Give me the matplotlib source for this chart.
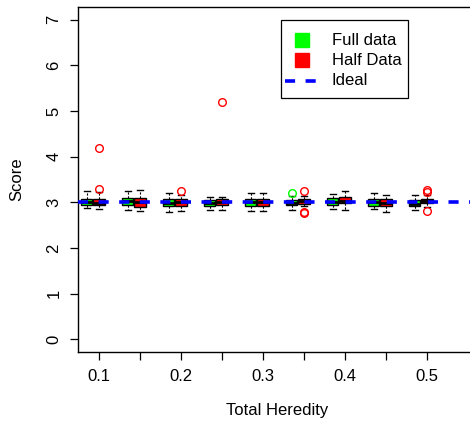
import matplotlib
matplotlib.use("Agg")
import matplotlib.pyplot as plt
from matplotlib.patches import Rectangle

plt.rcParams['font.family'] = ['Liberation Sans', 'DejaVu Sans']

# total heredity levels (one pair of boxes per level)
heredity = [0.1, 0.15, 0.2, 0.25, 0.3, 0.35, 0.4, 0.45, 0.5]
tick_labels = ["0.1", "", "0.2", "", "0.3", "", "0.4", "", "0.5"]

# full data box statistics
full_q1 = [2.94, 2.94, 2.92, 2.93, 2.93, 2.94, 2.94, 2.92, 2.92]
full_med = [3.00, 3.02, 2.98, 2.99, 3.00, 2.98, 3.01, 3.00, 2.97]
full_q3 = [3.08, 3.09, 3.07, 3.06, 3.08, 3.04, 3.09, 3.07, 3.04]
full_lo = [2.87, 2.84, 2.79, 2.83, 2.81, 2.84, 2.86, 2.86, 2.84]
full_hi = [3.24, 3.24, 3.21, 3.12, 3.20, 3.14, 3.19, 3.20, 3.17]
full_out = [[], [], [], [], [], [3.20], [], [], []]

# half data box statistics
half_q1 = [2.94, 2.89, 2.93, 2.95, 2.93, 2.97, 2.98, 2.92, 2.98]
half_med = [2.99, 3.00, 3.00, 3.01, 3.01, 3.03, 3.03, 2.98, 3.03]
half_q3 = [3.08, 3.09, 3.08, 3.08, 3.08, 3.08, 3.11, 3.07, 3.08]
half_lo = [2.85, 2.81, 2.82, 2.83, 2.81, 2.93, 2.84, 2.79, 2.89]
half_hi = [3.22, 3.28, 3.16, 3.11, 3.20, 3.14, 3.25, 3.15, 3.17]
half_out = [[4.20, 3.29], [], [3.25], [5.20], [], [3.24, 2.79, 2.76], [], [], [3.26, 3.23, 2.80]]

ideal = 3.0

legend_labels = ["Full data", "Half Data", "Ideal"]
GREEN, RED, BLUE = "#00FF00", "#FF0000", "#0000FF"
IDEAL_DASH = (0, (2.8, 2.9))


def make_stats(q1, med, q3, lo, hi, out):
    stats = []
    for a, b, c, d, e, f in zip(q1, med, q3, lo, hi, out):
        stats.append(dict(q1=a, med=b, q3=c, whislo=d, whishi=e, fliers=f))
    return stats


def draw_boxes(ax, stats, pos, color):
    ax.bxp(stats, positions=pos, widths=0.014, capwidths=0.007,
           patch_artist=True, manage_ticks=False,
           boxprops=dict(facecolor=color, edgecolor="black", linewidth=1.0),
           medianprops=dict(color="black", linewidth=2.0),
           whiskerprops=dict(color="black", linewidth=0.8, linestyle=(0, (2, 1.5))),
           capprops=dict(color="black", linewidth=1.0),
           flierprops=dict(marker="o", markerfacecolor="none", markeredgecolor=color,
                           markersize=5.5, markeredgewidth=1.0, linestyle="none"))


fig = plt.figure(figsize=(4.7, 4.25), dpi=100)
ax = fig.add_axes([78 / 470, 73 / 425, 398 / 470, 345 / 425])

full_pos = [h - 0.015 for h in heredity]
draw_boxes(ax, make_stats(full_q1, full_med, full_q3, full_lo, full_hi, full_out), full_pos, GREEN)
draw_boxes(ax, make_stats(half_q1, half_med, half_q3, half_lo, half_hi, half_out), heredity, RED)

ax.axhline(ideal, color=BLUE, linewidth=2.6, linestyle=IDEAL_DASH, zorder=5)

ax.set_xlim(0.0744, 0.5598)
ax.set_ylim(-0.28, 7.28)

ax.set_xticks(heredity)
ax.set_xticklabels(tick_labels, fontsize=12)
ax.set_yticks(range(8))
ax.set_yticklabels([str(i) for i in range(8)], fontsize=12, rotation=90, va="center")
ax.tick_params(axis="both", direction="out", length=6, width=0.9, colors="black")
ax.tick_params(axis="x", pad=6)
ax.tick_params(axis="y", pad=6)

for side in ["left", "bottom", "top"]:
    ax.spines[side].set_linewidth(1.0)
ax.spines["right"].set_visible(False)

ax.set_xlabel("Total Heredity", fontsize=12)
ax.xaxis.set_label_coords(0.5, -0.148)
ax.set_ylabel("Score", fontsize=12)
ax.yaxis.set_label_coords(-0.136, 0.5)

# R-style legend box, laid out in axes fractions
tr = ax.transAxes
ax.add_patch(Rectangle((0.510, 0.736), 0.319, 0.226, transform=tr, facecolor="white",
                       edgecolor="black", linewidth=0.9, zorder=10))
rows = [0.903, 0.845, 0.786]
ax.plot([0.563], [rows[0]], "s", color=GREEN, markersize=9.4, transform=tr, zorder=11)
ax.plot([0.563], [rows[1]], "s", color=RED, markersize=9.4, transform=tr, zorder=11)
ax.plot([0.520, 0.600], [rows[2], rows[2]], color=BLUE, linewidth=2.6,
        linestyle=IDEAL_DASH, transform=tr, zorder=11)
for label, yy in zip(legend_labels, rows):
    ax.text(0.638, yy, label, fontsize=12, ha="left", va="center", transform=tr, zorder=11)

fig.savefig("out.png", dpi=100)
